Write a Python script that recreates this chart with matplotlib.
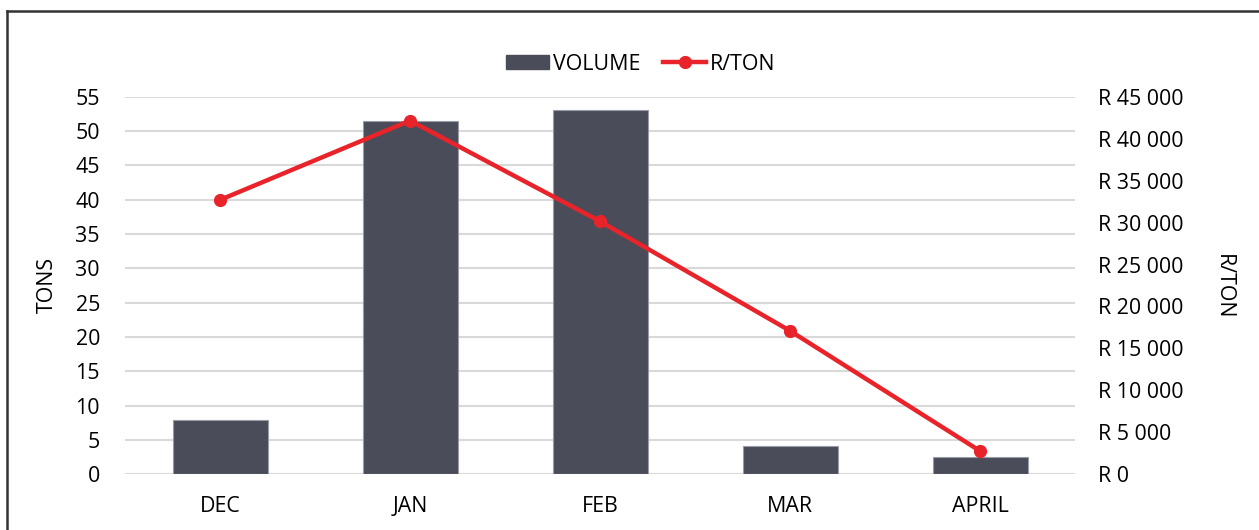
import matplotlib
matplotlib.use("Agg")
import matplotlib.pyplot as plt
from matplotlib.lines import Line2D
from matplotlib.ticker import FuncFormatter

months = ["DEC", "JAN", "FEB", "MAR", "APRIL"]
volume = [7.9, 51.5, 53.1, 4.1, 2.5]
r_per_ton = [32700, 42150, 30150, 17100, 2780]

left_ticks = list(range(0, 56, 5))
right_ticks = list(range(0, 45001, 5000))

plt.rcParams['font.family'] = ['Open Sans', 'DejaVu Sans']
FS = 15.4

W, H = 1259, 530
fig = plt.figure(figsize=(W / 100, H / 100), dpi=100)
ax = fig.add_axes([125 / W, 1 - 474.3 / H, 950 / W, (474.3 - 96.7) / H])
ax2 = ax.twinx()

bar_color = "#4A4C5A"
line_color = "#E8232A"
grid_color = "#D9D9D9"

x = list(range(len(months)))
ax.bar(x, volume, width=0.5, color=bar_color, edgecolor="#9A9CA4",
       linewidth=0.8, zorder=3, label="VOLUME")
ax.set_xlim(-0.5, len(months) - 0.5)
ax.set_ylim(0, 55)
ax.set_yticks(left_ticks)
ax.yaxis.grid(True, color=grid_color, linewidth=1.5, zorder=0)
ax.set_axisbelow(True)
ax.set_xticks(x)
ax.set_xticklabels(months)

ax2.plot(x, r_per_ton, color=line_color, linewidth=3.2, marker="o",
         markersize=8.5, zorder=5, label="R/TON")
ax2.set_ylim(0, 45000)
ax2.set_yticks(right_ticks)
ax2.yaxis.set_major_formatter(FuncFormatter(
    lambda v, p: "R " + f"{int(v):,}".replace(",", " ")))

for a in (ax, ax2):
    for s in a.spines.values():
        s.set_visible(False)
    a.tick_params(length=0, labelsize=FS, colors="#000000")
ax.tick_params(axis="y", pad=18)
ax2.tick_params(axis="y", pad=16.5)
ax.tick_params(axis="x", pad=15.5)

ax.set_zorder(1)
ax2.set_zorder(2)
ax.patch.set_visible(False)

fig.text(47 / W, 1 - 285 / H, "TONS", fontsize=FS, rotation=90, ha="center", va="center")
fig.text(1223 / W, 1 - 287 / H, "R/TON", fontsize=FS, rotation=-90, ha="center", va="center")

handles = [plt.Rectangle((0, 0), 1, 1, color=bar_color),
           Line2D([0], [0], color=line_color, linewidth=3.2, marker="o", markersize=8.5)]
fig.legend(handles, ["VOLUME", "R/TON"], loc="center", bbox_to_anchor=(641 / W, 1 - 64 / H),
           ncol=2, frameon=False, fontsize=FS, handlelength=2.0, handleheight=0.6,
           handletextpad=0.2, columnspacing=1.05, borderpad=0)

# figure border (left and top)
fig.add_artist(Line2D([7 / W, 7 / W], [0, 1 - 11 / H], color="#333333", linewidth=1.8,
                      transform=fig.transFigure))
fig.add_artist(Line2D([7 / W, 1], [1 - 11 / H, 1 - 11 / H], color="#333333", linewidth=1.8,
                      transform=fig.transFigure))

fig.savefig("out.png", dpi=100, facecolor="white")
